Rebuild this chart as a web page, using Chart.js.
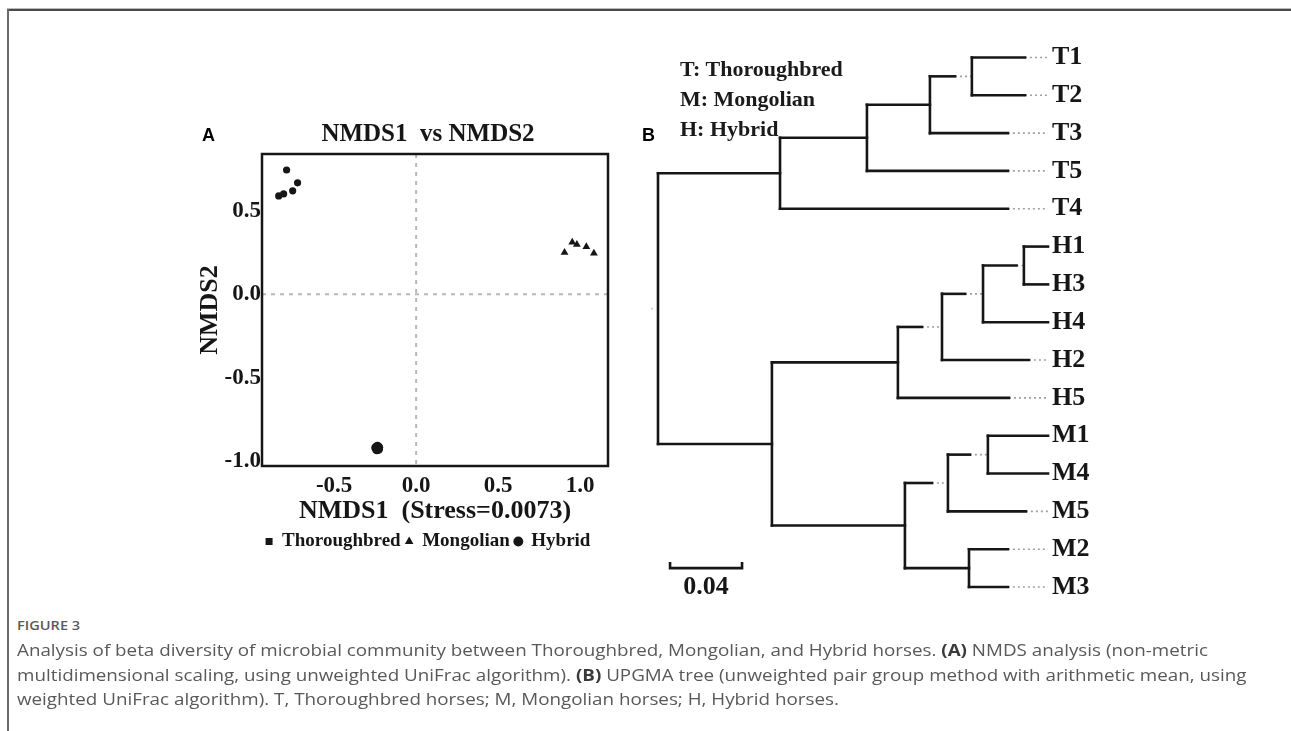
<!DOCTYPE html>
<html>
<head>
<meta charset="utf-8">
<script src="https://cdn.jsdelivr.net/npm/chart.js@4.4.1/dist/chart.umd.min.js"></script>
<style>
  html, body { margin:0; padding:0; background:#fff; }
  #page { position:relative; width:1291px; height:731px; overflow:hidden; background:#fff; }
  .frameTop { position:absolute; left:7px; top:8px; width:1284px; height:0; border-top:1px solid #bbb; border-bottom:2px solid #4a4a4a; }
  .frameLeft { position:absolute; left:7px; top:9px; width:2px; height:722px; background:#6a6a6a; }
  canvas { position:absolute; }
  .panel { position:absolute; font-family:'Liberation Sans', Arial, sans-serif; font-weight:bold; font-size:18px; color:#000; line-height:18px; }
  .key { position:absolute; left:680px; top:54px; font-family:'Liberation Serif','Times New Roman',serif; font-weight:bold; font-size:22px; line-height:30px; color:#1a1a1a; }
  .fig { position:absolute; left:17px; top:616px; font-family:'Open Sans', sans-serif; font-size:13px; font-weight:600; color:#5a5a5a; transform:scaleX(1.12); transform-origin:left top; }
  .cap { position:absolute; left:17px; top:638px; font-family:'Open Sans', sans-serif; font-size:16px; line-height:24.5px; color:#595959; white-space:nowrap; transform:scaleX(1.175); transform-origin:left top; }
  .cap b { color:#3a3a3a; }
</style>
</head>
<body>
<div id="page">
  <div class="frameTop"></div>
  <div class="frameLeft"></div>
  <canvas id="nmds" width="516" height="459" style="left:170px; top:108px;"></canvas>
  <canvas id="tree" width="560" height="650" style="left:600px; top:0px;"></canvas>
  <div class="panel" style="left:202px; top:126px;">A</div>
  <div class="panel" style="left:642px; top:126px;">B</div>
  <div class="key">T: Thoroughbred<br>M: Mongolian<br>H: Hybrid</div>
  <div class="fig">FIGURE 3</div>
  <div class="cap">Analysis of beta diversity of microbial community between Thoroughbred, Mongolian, and Hybrid horses. <b>(A)</b> NMDS analysis (non-metric<br>multidimensional scaling, using unweighted UniFrac algorithm). <b>(B)</b> UPGMA tree (unweighted pair group method with arithmetic mean, using<br>weighted UniFrac algorithm). T, Thoroughbred horses; M, Mongolian horses; H, Hybrid horses.</div>
</div>
<script>
// ---------------- Panel A data (NMDS) ----------------
const groupNames = ['Thoroughbred', 'Mongolian', 'Hybrid'];
const legendMarkers = ['rect', 'triangle', 'circle'];
const thoroughbredX = [-0.246, -0.229, -0.240, -0.230, -0.236];
const thoroughbredY = [-0.920, -0.918, -0.932, -0.930, -0.912];
const mongolianX = [0.905, 0.952, 0.980, 1.038, 1.084];
const mongolianY = [0.250, 0.311, 0.298, 0.284, 0.245];
const hybridX = [-0.790, -0.838, -0.808, -0.753, -0.723];
const hybridY = [0.744, 0.589, 0.601, 0.619, 0.667];
const nmdsXTicks = [-0.5, 0.0, 0.5, 1.0];
const nmdsYTicks = [-1.0, -0.5, 0.0, 0.5];

// ---------------- Panel B data (UPGMA tree) ----------------
const leafNames = ['T1','T2','T3','T5','T4','H1','H3','H4','H2','H5','M1','M4','M5','M2','M3'];
const treeHeight = 0.2167;
// depth where the solid part of each leaf branch ends (rest up to the tip is dotted)
const leafSolidEnd = [0.2039,0.2039,0.1944,0.1944,0.1944,0.2167,0.2167,0.2167,0.2061,0.1950,0.2167,0.2167,0.2044,0.1944,0.1944];
const nodeNames = ['T12','T123','T1235','T','H13','H134','H1342','H','M14','M145','M23','M','HM','root'];
const nodeChildren = [[0,1],['T12',2],['T123',3],['T1235',4],[5,6],['H13',7],['H134',8],['H1342',9],[10,11],['M14',12],[13,14],['M145','M23'],['H','M'],['T','HM']];
const nodeDepth = [0.1744,0.1511,0.1161,0.0678,0.2033,0.1806,0.1578,0.1333,0.1833,0.1611,0.1728,0.1372,0.0633,0.0];
const nodeSolidEnd = [0.1650,0.1511,0.1161,0.0678,0.1992,0.1706,0.1467,0.1333,0.1733,0.1522,0.1728,0.1372,0.0633,0.0];
const scaleBarStart = 0.0067;
const scaleBarLength = 0.04;
const scaleBarLabel = '0.04';

const SERIF = "'Liberation Serif', 'Times New Roman', serif";
const INK = '#161616';

// ---------------- Panel A chart ----------------
const zip = (xs, ys) => xs.map((x, i) => ({ x, y: ys[i] }));

const nmdsFrame = {
  id: 'nmdsFrame',
  beforeDatasetsDraw(chart) {
    const { ctx, chartArea: a, scales: { x, y } } = chart;
    ctx.save();
    ctx.strokeStyle = '#b8b8b8';
    ctx.lineWidth = 2;
    ctx.setLineDash([4, 5]);
    const x0 = x.getPixelForValue(0), y0 = y.getPixelForValue(0);
    ctx.beginPath(); ctx.moveTo(x0, a.top); ctx.lineTo(x0, a.bottom); ctx.stroke();
    ctx.beginPath(); ctx.moveTo(a.left, y0); ctx.lineTo(a.right, y0); ctx.stroke();
    ctx.restore();
  },
  afterDatasetsDraw(chart) {
    const { ctx, chartArea: a } = chart;
    ctx.save();
    ctx.strokeStyle = INK;
    ctx.lineWidth = 2.5;
    ctx.strokeRect(a.left, a.top, a.right - a.left, a.bottom - a.top);
    ctx.restore();
  }
};

new Chart(document.getElementById('nmds'), {
  type: 'scatter',
  data: {
    datasets: [
      { label: groupNames[0], data: zip(thoroughbredX, thoroughbredY), pointStyle: 'circle', pointRadius: 4.6, backgroundColor: INK, borderColor: INK, borderWidth: 0 },
      { label: groupNames[1], data: zip(mongolianX, mongolianY), pointStyle: 'triangle', pointRadius: 4.5, backgroundColor: INK, borderColor: INK, borderWidth: 0 },
      { label: groupNames[2], data: zip(hybridX, hybridY), pointStyle: 'circle', pointRadius: 3.6, backgroundColor: INK, borderColor: INK, borderWidth: 0 }
    ]
  },
  options: {
    responsive: false,
    animation: false,
    layout: { padding: { left: 25, right: 25, top: 12, bottom: 6 } },
    plugins: {
      title: { display: true, text: 'NMDS1  vs NMDS2', color: INK, font: { family: SERIF, size: 25, weight: 'bold' }, padding: { top: 0, bottom: 4 } },
      legend: {
        position: 'bottom',
        labels: {
          usePointStyle: true, boxWidth: 7, boxHeight: 7, padding: 5, color: INK,
          font: { family: SERIF, size: 19, weight: 'bold' },
          generateLabels(chart) {
            const items = Chart.defaults.plugins.legend.labels.generateLabels(chart);
            items.forEach((it, i) => { it.pointStyle = legendMarkers[i]; });
            return items;
          }
        }
      },
      tooltip: { enabled: false }
    },
    scales: {
      x: {
        type: 'linear', min: -0.94, max: 1.17,
        afterBuildTicks: s => { s.ticks = nmdsXTicks.map(v => ({ value: v })); },
        afterFit: s => { s.height = 61; },
        ticks: { callback: v => v.toFixed(1), color: INK, padding: 6, font: { family: SERIF, size: 23, weight: 'bold' } },
        grid: { display: false, drawTicks: false },
        border: { display: false },
        title: { display: true, text: 'NMDS1  (Stress=0.0073)', color: INK, padding: 0, font: { family: SERIF, size: 26, weight: 'bold' } }
      },
      y: {
        type: 'linear', min: -1.03, max: 0.84,
        afterBuildTicks: s => { s.ticks = nmdsYTicks.map(v => ({ value: v })); },
        afterFit: s => { s.width = 67; },
        ticks: { callback: v => v.toFixed(1), color: INK, padding: 1, font: { family: SERIF, size: 23, weight: 'bold' } },
        grid: { display: false, drawTicks: false },
        border: { display: false },
        title: { display: true, text: 'NMDS2', color: INK, padding: 0, font: { family: SERIF, size: 26, weight: 'bold' } }
      },
      // empty spacer axis on the right so the title and legend sit where the reference has them
      yRight: {
        type: 'linear', position: 'right', min: 0, max: 1,
        afterFit: s => { s.width = 53; },
        ticks: { display: false },
        grid: { display: false, drawTicks: false },
        border: { display: false }
      }
    }
  },
  plugins: [nmdsFrame]
});

// ---------------- Panel B chart ----------------
const pos = {};
leafNames.forEach((n, i) => { pos['L' + i] = { x: treeHeight, y: i, solid: leafSolidEnd[i] }; });
nodeNames.forEach((n, k) => {
  const ch = nodeChildren[k].map(c => typeof c === 'number' ? 'L' + c : c);
  const ys = ch.map(c => pos[c].y);
  pos[n] = { x: nodeDepth[k], y: (Math.min(...ys) + Math.max(...ys)) / 2, ymin: Math.min(...ys), ymax: Math.max(...ys), solid: nodeSolidEnd[k], children: ch };
});

const solidStyle = { showLine: true, borderColor: INK, borderWidth: 2.6, pointRadius: 0, borderCapStyle: 'square', clip: false };
const dotStyle = { showLine: true, borderColor: '#a0a0a0', borderWidth: 1.6, pointRadius: 0, borderDash: [2, 3], clip: false };
const treeSets = [];
nodeNames.forEach(n => {
  const p = pos[n];
  treeSets.push({ ...solidStyle, data: [{ x: p.x, y: p.ymin }, { x: p.x, y: p.ymax }] });
  p.children.forEach(c => {
    const q = pos[c];
    treeSets.push({ ...solidStyle, data: [{ x: p.x, y: q.y }, { x: q.solid, y: q.y }] });
    if (q.solid < q.x) treeSets.push({ ...dotStyle, data: [{ x: q.solid, y: q.y }, { x: q.x, y: q.y }] });
  });
});
// stub at the root
treeSets.push({ ...dotStyle, data: [{ x: -0.0036, y: pos.root.y }, { x: -0.0030, y: pos.root.y }] });
// scale bar
const barY = 13.5, barTick = 0.16;
treeSets.push({ ...solidStyle, borderCapStyle: 'butt', borderJoinStyle: 'miter', data: [
  { x: scaleBarStart, y: barY - barTick }, { x: scaleBarStart, y: barY },
  { x: scaleBarStart + scaleBarLength, y: barY }, { x: scaleBarStart + scaleBarLength, y: barY - barTick }
] });

const barLabel = {
  id: 'barLabel',
  afterDatasetsDraw(chart) {
    const { ctx, scales: { x, y } } = chart;
    ctx.save();
    ctx.font = `bold 26px ${SERIF}`;
    ctx.fillStyle = INK;
    ctx.textAlign = 'center';
    ctx.textBaseline = 'middle';
    ctx.fillText(scaleBarLabel, x.getPixelForValue(scaleBarStart + scaleBarLength / 2), y.getPixelForValue(14));
    ctx.restore();
  }
};

new Chart(document.getElementById('tree'), {
  type: 'scatter',
  data: { datasets: treeSets },
  options: {
    responsive: false,
    animation: false,
    layout: { padding: { left: 58, right: 0, top: 19.14, bottom: 25.14 } },
    plugins: { legend: { display: false }, tooltip: { enabled: false } },
    scales: {
      x: { type: 'linear', display: false, min: 0, max: treeHeight },
      y: {
        type: 'linear', position: 'right', reverse: true, min: -1, max: 15,
        afterBuildTicks: s => { s.ticks = leafNames.map((_, i) => ({ value: i })); },
        afterFit: s => { s.width = 112; },
        ticks: { autoSkip: false, callback: v => leafNames[v], color: INK, padding: 4, font: { family: SERIF, size: 26, weight: 'bold' } },
        grid: { display: false, drawTicks: false },
        border: { display: false }
      }
    }
  },
  plugins: [barLabel]
});
</script>
</body>
</html>
